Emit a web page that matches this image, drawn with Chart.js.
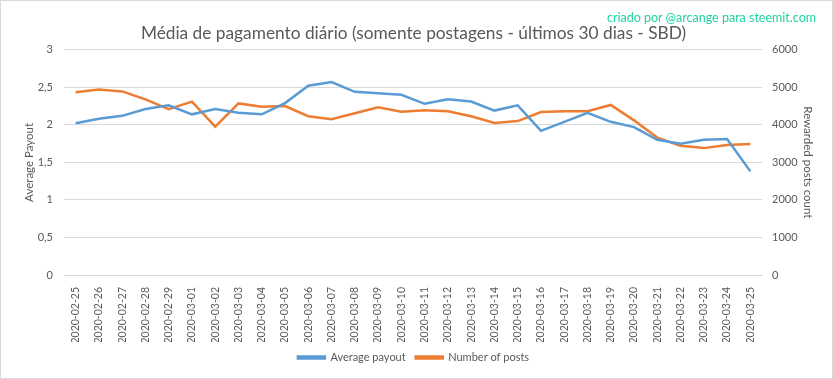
<!DOCTYPE html>
<html lang="pt">
<head>
    <meta charset="UTF-8">
    <title>Média de pagamento diário</title>
    <script src="https://cdn.jsdelivr.net/npm/chart.js"></script>
    <style>
        body {
            margin: 0;
            background: #ffffff;
        }

        .frame {
            position: relative;
            width: 833px;
            height: 379px;
            box-sizing: border-box;
            border: 1px solid #d9d9d9;
            background: #ffffff;
        }

        .credit {
            position: absolute;
            right: 16px;
            top: 9px;
            font-family: Lato, sans-serif;
            font-size: 12.5px;
            color: #1fd3a0;
        }

        canvas {
            display: block;
        }
    </style>
</head>
<body>
    <div class="frame">
        <canvas id="payoutChart" width="831" height="377"></canvas>
        <div class="credit">criado por @arcange para steemit.com</div>
    </div>

    <script>
        const dias = [
            "2020-02-25", "2020-02-26", "2020-02-27", "2020-02-28", "2020-02-29",
            "2020-03-01", "2020-03-02", "2020-03-03", "2020-03-04", "2020-03-05",
            "2020-03-06", "2020-03-07", "2020-03-08", "2020-03-09", "2020-03-10",
            "2020-03-11", "2020-03-12", "2020-03-13", "2020-03-14", "2020-03-15",
            "2020-03-16", "2020-03-17", "2020-03-18", "2020-03-19", "2020-03-20",
            "2020-03-21", "2020-03-22", "2020-03-23", "2020-03-24", "2020-03-25"
        ];

        const mediaPagamento = [
            2.02, 2.08, 2.12, 2.21, 2.26, 2.14, 2.21, 2.16, 2.14, 2.29,
            2.52, 2.57, 2.44, 2.42, 2.40, 2.28, 2.34, 2.31, 2.19, 2.26,
            1.92, 2.04, 2.16, 2.04, 1.97, 1.80, 1.75, 1.80, 1.81, 1.38
        ];

        const numeroPosts = [
            4870, 4940, 4890, 4680, 4420, 4620, 3950, 4570, 4480, 4500,
            4230, 4150, 4310, 4470, 4350, 4390, 4360, 4230, 4050, 4100,
            4340, 4360, 4360, 4530, 4120, 3660, 3440, 3380, 3460, 3490
        ];

        const ticksPagamento = [0, 0.5, 1, 1.5, 2, 2.5, 3];
        const ticksPosts = [0, 1000, 2000, 3000, 4000, 5000, 6000];

        const cinza = '#595959';
        const grade = '#d9d9d9';
        const fonte = 'Lato, sans-serif';

        const ctx = document.getElementById('payoutChart').getContext('2d');

        new Chart(ctx, {
            type: 'line',
            data: {
                labels: dias,
                datasets: [{
                    label: 'Average payout',
                    data: mediaPagamento,
                    yAxisID: 'y',
                    borderColor: '#5b9bd5',
                    backgroundColor: '#5b9bd5',
                    borderWidth: 2.5,
                    pointRadius: 0,
                    tension: 0
                }, {
                    label: 'Number of posts',
                    data: numeroPosts,
                    yAxisID: 'y2',
                    borderColor: '#ed7d31',
                    backgroundColor: '#ed7d31',
                    borderWidth: 2.5,
                    pointRadius: 0,
                    tension: 0
                }]
            },
            options: {
                responsive: false,
                animation: false,
                layout: {
                    padding: { top: 0, left: 7, right: 13, bottom: 5 }
                },
                scales: {
                    x: {
                        offset: true,
                        grid: { display: false },
                        border: { color: grade },
                        ticks: {
                            color: cinza,
                            font: { family: fonte, size: 10.5 },
                            minRotation: 90,
                            maxRotation: 90,
                            autoSkip: false,
                            padding: 4
                        },
                        afterFit: (scale) => { scale.height = 67; }
                    },
                    y: {
                        position: 'left',
                        min: 0,
                        max: 3,
                        afterBuildTicks: (scale) => {
                            scale.ticks = ticksPagamento.map(v => ({ value: v }));
                        },
                        grid: { color: grade, drawTicks: false },
                        border: { display: false },
                        ticks: {
                            color: cinza,
                            font: { family: fonte, size: 11 },
                            padding: 11,
                            callback: (v) => String(v).replace('.', ',')
                        },
                        title: {
                            display: true,
                            text: 'Average Payout',
                            color: cinza,
                            font: { family: fonte, size: 11.5 },
                            padding: { top: 14, bottom: 0 }
                        },
                        afterFit: (scale) => { scale.width = 56; }
                    },
                    y2: {
                        position: 'right',
                        min: 0,
                        max: 6000,
                        afterBuildTicks: (scale) => {
                            scale.ticks = ticksPosts.map(v => ({ value: v }));
                        },
                        grid: { display: false, drawTicks: false },
                        border: { display: false },
                        ticks: {
                            color: cinza,
                            font: { family: fonte, size: 11 },
                            padding: 10,
                            callback: (v) => String(v)
                        },
                        title: {
                            display: true,
                            text: 'Rewarded posts count',
                            color: cinza,
                            font: { family: fonte, size: 11.5 },
                            padding: { top: 4, bottom: 0 }
                        },
                        afterFit: (scale) => { scale.width = 57; }
                    }
                },
                plugins: {
                    title: {
                        display: true,
                        text: 'Média de pagamento diário (somente postagens - últimos 30 dias - SBD)',
                        color: cinza,
                        font: { family: fonte, size: 17.3, weight: 'normal' },
                        padding: { top: 22, bottom: 6 }
                    },
                    legend: {
                        position: 'bottom',
                        labels: {
                            color: cinza,
                            font: { family: fonte, size: 11 },
                            boxWidth: 27,
                            boxHeight: 2,
                            padding: 10
                        }
                    },
                    tooltip: { enabled: false }
                }
            }
        });
    </script>
</body>
</html>
